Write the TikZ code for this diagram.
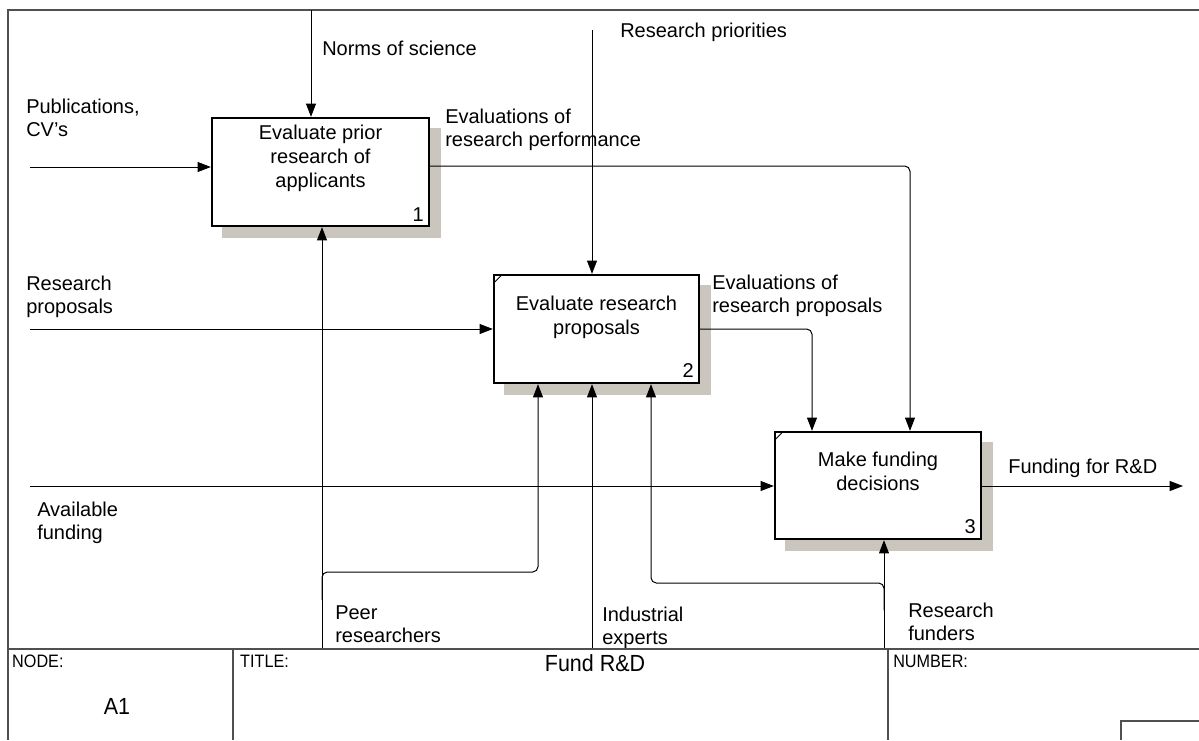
\documentclass[tikz,border=0pt]{standalone}
\usepackage{fontspec}
\setmainfont{Liberation Sans}
\usetikzlibrary{arrows.meta,backgrounds}
\definecolor{shadowgray}{RGB}{202,198,190}
\definecolor{framegray}{RGB}{80,80,80}
\begin{document}
\begin{tikzpicture}[x=0.75pt,y=-0.75pt,
  lbl/.style={font=\fontsize{15}{17.5}\selectfont, align=left, anchor=west, inner sep=0pt},
  procbox/.style={draw=black, line width=1.7pt, fill=white, inner sep=0pt},
  boxtext/.style={font=\fontsize{15}{18}\selectfont, align=center, inner sep=0pt, anchor=north},
  numtext/.style={font=\fontsize{15}{18}\selectfont, inner sep=0pt},
  flow/.style={line width=0.75pt, -{Triangle[length=10pt,width=7.5pt]}, rounded corners=4pt},
  shade/.style={fill=shadowgray},
  frameline/.style={draw=framegray, line width=1.5pt},
  blockline/.style={draw=framegray, line width=1.1pt},
  hdr/.style={font=\fontsize{13.5}{16}\selectfont, anchor=west, inner sep=0pt, xscale=0.9, transform shape},
  bigtext/.style={font=\fontsize{17.5}{20}\selectfont, inner sep=0pt, xscale=0.92, transform shape},
  ]
\useasboundingbox (0,0) rectangle (1199,740);

% outer frame
\draw[frameline] (8,740) -- (8,10) -- (1199,10);

% activity boxes
\node[procbox, minimum width=162.75pt, minimum height=81pt] (b1) at (320.5,172) {};
\node[procbox, minimum width=153.75pt, minimum height=81pt] (b2) at (596.5,329) {};
\node[procbox, minimum width=154.5pt, minimum height=80.25pt] (b3) at (878,485.5) {};

% drop shadows behind the boxes
\begin{scope}[on background layer]
  \foreach \b in {b1,b2,b3}
    \fill[shade] ([shift={(11,11)}]\b.south west) rectangle ([shift={(11,11)}]\b.north east);
\end{scope}

% box captions and numbers
\node[boxtext] (t1) at (320.5,125) {Evaluate prior\\research of\\applicants};
\node[boxtext] (t2) at (596.5,296) {Evaluate research\\proposals};
\node[boxtext] (t3) at (878,452) {Make funding\\decisions};
\node[numtext] (n1) at ([shift={(-12,-13)}]b1.south east) {1};
\node[numtext] (n2) at ([shift={(-12,-14)}]b2.south east) {2};
\node[numtext] (n3) at ([shift={(-12,-14)}]b3.south east) {3};

% corner ticks
\draw[line width=0.75pt] ([shift={(1,9)}]b2.north west) -- ([shift={(9,1)}]b2.north west);
\draw[line width=0.75pt] ([shift={(1,9)}]b3.north west) -- ([shift={(9,1)}]b3.north west);

% controls from above
\coordinate (normsSrc) at (311,10);
\draw[flow] (normsSrc) -- (normsSrc |- b1.north);
\coordinate (prioSrc) at (592,30);
\draw[flow] (prioSrc) -- (prioSrc |- b2.north);

% inputs from the left
\coordinate (pubSrc) at (30,167);
\draw[flow] (pubSrc) -- (pubSrc -| b1.west);
\coordinate (propSrc) at (30,329);
\draw[flow] (propSrc) -- (propSrc -| b2.west);
\coordinate (fundSrc) at (30,486);
\draw[flow] (fundSrc) -- (fundSrc -| b3.west);

% outputs
\coordinate (perfDrop) at (910,166);
\draw[flow] (b1.east |- perfDrop) -- (perfDrop) -- (perfDrop |- b3.north);
\coordinate (propDrop) at (812,329);
\draw[flow] (b2.east |- propDrop) -- (propDrop) -- (propDrop |- b3.north);
\coordinate (outEnd) at (1183,486);
\draw[flow] (b3.east |- outEnd) -- (outEnd);

% mechanisms from below
\coordinate (peerSrc) at (322,648);
\draw[flow] (peerSrc) -- (peerSrc |- b1.south);
\coordinate (peerFork) at (322,600);
\coordinate (peerTurn) at (322,572);
\coordinate (peerRise) at (538,572);
\draw[flow] (peerFork) -- (peerTurn) -- (peerRise) -- (peerRise |- b2.south);
\coordinate (indSrc) at (592,648);
\draw[flow] (indSrc) -- (indSrc |- b2.south);
\coordinate (fundersSrc) at (884,648);
\draw[flow] (fundersSrc) -- (fundersSrc |- b3.south);
\coordinate (fundersFork) at (884,610);
\coordinate (fundersTurn) at (884,583);
\coordinate (fundersRise) at (651,583);
\draw[flow] (fundersFork) -- (fundersTurn) -- (fundersRise) -- (fundersRise |- b2.south);

% arrow labels
\node[lbl] (lNorms) at (322,48) {Norms of science};
\node[lbl] (lPub) at (26,118) {Publications,\\CV's};
\node[lbl] (lPerf) at (445,130) {Evaluations of\\research performance};
\node[lbl] (lPrio) at (620,32) {Research priorities};
\node[lbl] (lProp) at (26,297) {Research\\proposals};
\node[lbl] (lPropEval) at (712,296) {Evaluations of\\research proposals};
\node[lbl] (lAvail) at (37,523) {Available\\funding};
\node[lbl] (lOut) at (1008,468) {Funding for R\&D};
\node[lbl] (lPeer) at (335,624) {Peer\\researchers};
\node[lbl] (lInd) at (602,628) {Industrial\\experts};
\node[lbl] (lFunders) at (908,622) {Research\\funders};

% title block
\draw[blockline] (8,649) -- (1199,649);
\draw[blockline] (233,649) -- (233,740);
\draw[blockline] (888,649) -- (888,740);
\draw[blockline] (1121,740) -- (1121,721) -- (1199,721);
\node[hdr] (hNode) at (12,661) {NODE:};
\node[hdr] (hTitle) at (240,661) {TITLE:};
\node[hdr] (hNumber) at (893,661) {NUMBER:};
\node[bigtext] (vNode) at (117,706) {A1};
\node[bigtext] (vTitle) at (595,663) {Fund R\&D};
\end{tikzpicture}
\end{document}
